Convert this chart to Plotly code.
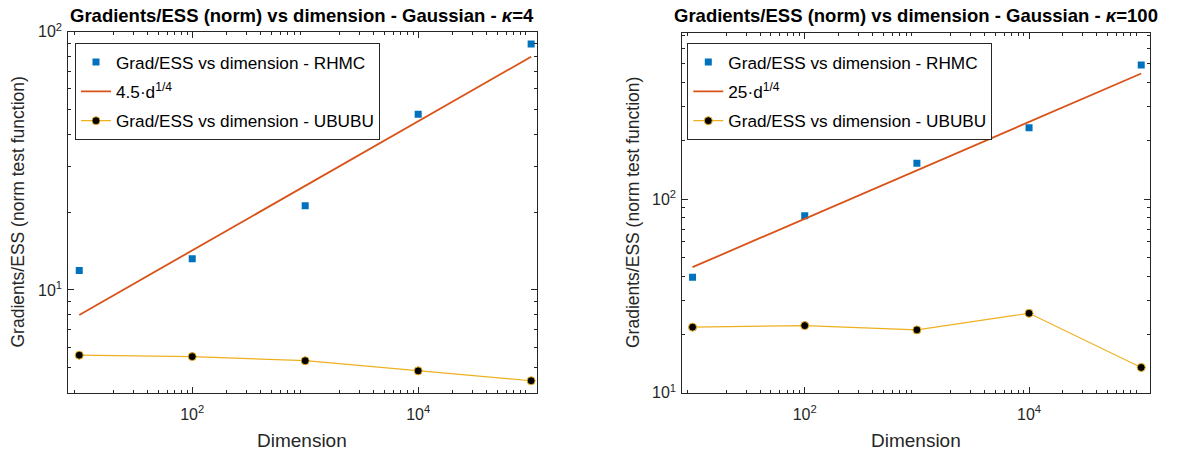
import numpy as np
import plotly.graph_objects as go

# ---------------- data ----------------
dims = [10, 100, 1000, 10000, 100000]

rhmc_k4 = [11.9, 13.2, 21.2, 47.9, 89.6]
fit_k4 = [8.00, 14.23, 25.31, 45.00, 80.02]
ububu_k4 = [5.59, 5.52, 5.32, 4.86, 4.45]

rhmc_k100 = [39.5, 82.0, 153.0, 233.0, 492.0]
fit_k100 = [44.46, 79.06, 140.6, 250.0, 444.6]
ububu_k100 = [21.8, 22.2, 21.1, 25.7, 13.5]

titles = ["Gradients/ESS (norm) vs dimension - Gaussian - <i>κ</i>=4",
          "Gradients/ESS (norm) vs dimension - Gaussian - <i>κ</i>=100"]
fit_names = ["4.5·d<sup>1/4</sup>", "25·d<sup>1/4</sup>"]
name_rhmc = "Grad/ESS vs dimension - RHMC"
name_ububu = "Grad/ESS vs dimension - UBUBU"

xticks = [100, 10000]
xticktext = ["10<sup>2</sup>", "10<sup>4</sup>"]
yticks = [10, 100]
yticktext = ["10<sup>1</sup>", "10<sup>2</sup>"]

# ---------------- style ----------------
W, H = 1177, 455
AX = "#262626"
BLUE = "#0072BD"
ORANGE = "#D95319"
YELLOW = "#EDB120"
FONT = "Liberation Sans, Arial, sans-serif"

def px_x(p):
    return p / W

def px_y(p):
    return 1 - p / H

def minor_vals(lo, hi):
    vals = []
    for e in range(-1, 7):
        for m in range(1, 10):
            v = m * 10 ** e
            if lo <= v <= hi and m != 1:
                vals.append(v)
    return vals

fig = go.Figure()

panels = [
    dict(rhmc=rhmc_k4, fit=fit_k4, ububu=ububu_k4, xd=(68.3, 536.7), yd=(31.7, 392.7),
         xr=(8, 1.12e5), yr=(4, 100), leg=(75, 43.3)),
    dict(rhmc=rhmc_k100, fit=fit_k100, ububu=ububu_k100, xd=(682.3, 1149.7), yd=(32.7, 392.7),
         xr=(8.1, 1.19e5), yr=(10, 722), leg=(687.3, 43.3)),
]

for i, p in enumerate(panels):
    sfx = "" if i == 0 else str(i + 1)
    xa = "x" + sfx
    ya = "y" + sfx
    lg = "legend" + sfx
    fig.add_trace(go.Scatter(x=dims, y=p["rhmc"], mode="markers", name=name_rhmc,
                             marker=dict(symbol="square", size=7, color=BLUE),
                             xaxis=xa, yaxis=ya, legend=lg, legendgroup=f"a{i}"))
    fig.add_trace(go.Scatter(x=dims, y=p["fit"], mode="lines", name=fit_names[i],
                             line=dict(color=ORANGE, width=1.8),
                             xaxis=xa, yaxis=ya, legend=lg, legendgroup=f"b{i}"))
    fig.add_trace(go.Scatter(x=dims, y=p["ububu"], mode="lines+markers", name=name_ububu,
                             line=dict(color=YELLOW, width=1.2),
                             marker=dict(symbol="circle", size=8, color="black",
                                         line=dict(color=YELLOW, width=1)),
                             xaxis=xa, yaxis=ya, legend=lg, legendgroup=f"c{i}"))

    common = dict(showline=True, linecolor=AX, linewidth=1, mirror="ticks",
                  ticks="inside", ticklen=6, tickcolor=AX, tickwidth=1,
                  showgrid=False, zeroline=False, type="log", automargin=False,
                  tickfont=dict(family=FONT, size=16, color=AX))
    xlay = dict(common)
    xlay.update(domain=[px_x(p["xd"][0]), px_x(p["xd"][1])],
                range=[np.log10(p["xr"][0]), np.log10(p["xr"][1])],
                tickmode="array", tickvals=xticks, ticktext=xticktext,
                anchor=ya, ticklabelstandoff=7,
                minor=dict(tickmode="array", tickvals=minor_vals(*p["xr"]),
                           ticks="inside", ticklen=3, tickcolor=AX, tickwidth=1))
    ylay = dict(common)
    ylay.update(domain=[px_y(p["yd"][1]), px_y(p["yd"][0])],
                range=[np.log10(p["yr"][0]), np.log10(p["yr"][1])],
                tickmode="array", tickvals=yticks, ticktext=yticktext,
                anchor=xa, ticklabelstandoff=2,
                minor=dict(tickmode="array", tickvals=minor_vals(*p["yr"]),
                           ticks="inside", ticklen=3, tickcolor=AX, tickwidth=1))
    fig.layout["xaxis" + sfx] = xlay
    fig.layout["yaxis" + sfx] = ylay

    fig.layout[lg] = dict(x=px_x(p["leg"][0]), y=px_y(p["leg"][1]), xanchor="left", yanchor="top",
                          bgcolor="white", bordercolor=AX, borderwidth=1,
                          font=dict(family=FONT, size=17.2, color="black"),
                          itemwidth=30, traceorder="grouped", tracegroupgap=4)

    cx = (p["xd"][0] + p["xd"][1]) / 2
    cy = (p["yd"][0] + p["yd"][1]) / 2
    fig.add_annotation(text="<b>" + titles[i] + "</b>", x=px_x(cx), y=px_y(16), xref="paper", yref="paper",
                       showarrow=False, xanchor="center", yanchor="middle",
                       font=dict(family=FONT, size=18.5, color="black"))
    fig.add_annotation(text="Dimension", x=px_x(cx), y=px_y(440), xref="paper", yref="paper",
                       showarrow=False, xanchor="center", yanchor="middle",
                       font=dict(family=FONT, size=19, color=AX))
    fig.add_annotation(text="Gradients/ESS (norm test function)", x=px_x(p["xd"][0] - 50), y=px_y(cy),
                       xref="paper", yref="paper", textangle=-90,
                       showarrow=False, xanchor="center", yanchor="middle",
                       font=dict(family=FONT, size=17.5, color=AX))

fig.update_layout(width=W, height=H, margin=dict(l=0, r=0, t=0, b=0, autoexpand=False),
                  plot_bgcolor="white", paper_bgcolor="white", showlegend=True)

fig.write_html("out.html", config={"displayModeBar": False},
               post_script="document.body.style.margin='0px';")
